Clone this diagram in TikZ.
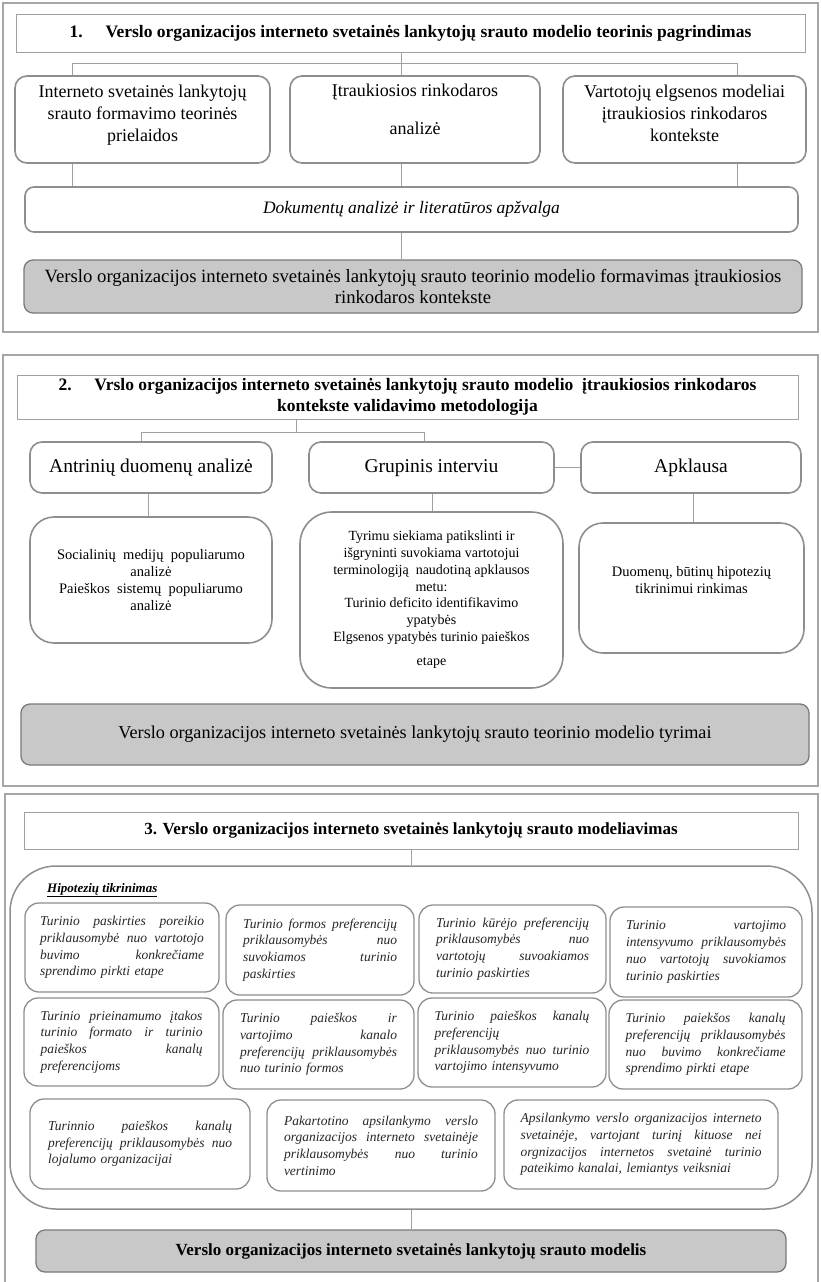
\documentclass[tikz,border=0pt]{standalone}
\usepackage{fontspec}
\setmainfont{Liberation Serif}
\usetikzlibrary{calc}
\definecolor{framegray}{HTML}{A6A6A6}
\definecolor{linegray}{HTML}{A0A0A0}
\definecolor{boxgray}{HTML}{8E8E8E}
\definecolor{fillgray}{HTML}{C8C8C8}
\definecolor{edgegray}{HTML}{7A7A7A}
% a line of a justified paragraph, spread to the full width
\newcommand\jline[1]{\makebox[\hsize][s]{\frenchspacing\spaceskip=0.25em plus 1fil\relax #1}}
\begin{document}
\begin{tikzpicture}[x=1pt,y=-1pt,
  frame/.style={draw=framegray, line width=2.2pt},
  conn/.style={draw=linegray, line width=0.8pt},
  sz/.style 2 args={minimum width=#1pt, minimum height=#2pt},
  headbox/.style={draw=linegray, line width=0.9pt, fill=white, inner sep=0pt,
    align=center, font=\fontsize{17.5}{21.5}\selectfont\bfseries},
  rbox/.style={draw=boxgray, line width=1.6pt, fill=white, rounded corners=#1,
    inner sep=0pt, align=center},
  rbox/.default=12pt,
  shaded/.style={draw=edgegray, line width=1.3pt, fill=fillgray,
    rounded corners=9pt, inner sep=0pt, align=center},
  hyp/.style n args={3}{draw=boxgray, line width=1.3pt, fill=white,
    rounded corners=14pt, inner sep=0pt, align=left, text width=#3pt,
    minimum width=#1pt, minimum height=#2pt,
    font=\fontsize{13.5}{16.7}\selectfont\itshape, text=black!85}
]
\useasboundingbox (0,0) rectangle (821,1282);

% ---------------- part 1 ----------------
\draw[frame] (3,3) rectangle (818,332);
\node[headbox, sz={789}{38}] (t1) at (410.5,33)
  {1.\hspace{1.3em}Verslo organizacijos interneto svetainės lankytojų srauto modelio teorinis pagrindimas};
\node[rbox, sz={255}{87}, font=\fontsize{18}{22}\selectfont, text depth=13pt] (a1) at (142.5,119.5)
  {Interneto svetainės lankytojų\\srauto formavimo teorinės\\prielaidos};
\node[rbox, sz={250}{87}, font=\fontsize{18}{22}\selectfont, text depth=20pt] (a2) at (415,119.5)
  {Įtraukiosios rinkodaros\\[16pt]analizė};
\node[rbox, sz={243}{87}, font=\fontsize{18}{22}\selectfont, text depth=13pt] (a3) at (684.5,119.5)
  {Vartotojų elgsenos modeliai\\įtraukiosios rinkodaros\\kontekste};
\node[rbox=9pt, sz={773}{45}, font=\fontsize{17.5}{20}\selectfont\itshape] (d1) at (411.5,209.5)
  {Dokumentų analizė ir literatūros apžvalga};
\node[shaded, sz={778}{53}, font=\fontsize{18.7}{20.5}\selectfont] (g1) at (413,286.5)
  {Verslo organizacijos interneto svetainės lankytojų srauto teorinio modelio formavimas įtraukiosios\\rinkodaros kontekste};

\coordinate (s1) at (401,63);
\coordinate (l1) at (72,63);
\coordinate (r1) at (737,63);
\draw[conn] (t1.south -| s1) -- (s1);
\draw[conn] (l1) -- (r1);
\draw[conn] (l1) -- (l1 |- a1.north);
\draw[conn] (s1) -- (s1 |- a2.north);
\draw[conn] (r1) -- (r1 |- a3.north);
\draw[conn] (l1 |- a1.south) -- (l1 |- d1.north);
\draw[conn] (s1 |- a2.south) -- (s1 |- d1.north);
\draw[conn] (r1 |- a3.south) -- (r1 |- d1.north);
\draw[conn] (s1 |- d1.south) -- (s1 |- g1.north);

% ---------------- part 2 ----------------
\draw[frame] (3,355) rectangle (818,786);
\node[headbox, sz={781}{44}] (t2) at (407.5,397)
  {2.\hspace{1.3em}Vrslo organizacijos interneto svetainės lankytojų srauto modelio \ įtraukiosios rinkodaros\\kontekste validavimo metodologija};
\node[rbox, sz={242}{51}, font=\fontsize{19.5}{22}\selectfont, text height=14pt, text depth=5pt] (m1) at (151,467.5)
  {Antrinių duomenų analizė};
\node[rbox, sz={245}{51}, font=\fontsize{19.5}{22}\selectfont, text height=14pt, text depth=5pt] (m2) at (431.5,467.5)
  {Grupinis interviu};
\node[rbox, sz={220}{51}, font=\fontsize{19.5}{22}\selectfont, text height=14pt, text depth=5pt] (m3) at (691,467.5)
  {Apklausa};
\node[rbox=24pt, sz={242}{126}, font=\fontsize{14.5}{16.7}\selectfont] (n1) at (151,580)
  {Socialinių \ medijų \ populiarumo\\analizė\\Paieškos \ sistemų \ populiarumo\\analizė};
\node[rbox=32pt, sz={263}{176}, font=\fontsize{14}{16.7}\selectfont] (n2) at (431.5,600)
  {Tyrimu siekiama patikslinti ir\\išgryninti suvokiama vartotojui\\terminologiją \ naudotiną apklausos\\metu:\\Turinio deficito identifikavimo\\ypatybės\\Elgsenos ypatybės turinio paieškos\\[8pt]etape};
\node[rbox=24pt, sz={225}{130}, font=\fontsize{14.5}{16.7}\selectfont, text depth=16pt] (n3) at (691.5,588)
  {Duomenų, būtinų hipotezių\\tikrinimui rinkimas};
\node[shaded, sz={788}{61}, font=\fontsize{18.2}{20}\selectfont] (g2) at (415,734.5)
  {Verslo organizacijos interneto svetainės lankytojų srauto teorinio modelio tyrimai};

\coordinate (s2) at (296,432);
\coordinate (l2) at (141,432);
\coordinate (r2) at (424,432);
\draw[conn] (t2.south -| s2) -- (s2);
\draw[conn] (l2) -- (r2);
\draw[conn] (l2) -- (l2 |- m1.north);
\draw[conn] (r2) -- (r2 |- m2.north);
\draw[conn] (m2.east) -- (m3.west);
\coordinate (v1) at (148,500);
\coordinate (v2) at (432,500);
\coordinate (v3) at (693,500);
\draw[conn] (v1 |- m1.south) -- (v1 |- n1.north);
\draw[conn] (v2 |- m2.south) -- (v2 |- n2.north);
\draw[conn] (v3 |- m3.south) -- (v3 |- n3.north);

% ---------------- part 3 ----------------
\draw[frame] (5,794) rectangle (818,1295);
\node[headbox, sz={774}{37}, font=\fontsize{17}{20}\selectfont\bfseries] (t3) at (411,830.5)
  {3. Verslo organizacijos interneto svetainės lankytojų srauto modeliavimas};
\node[draw=boxgray, line width=1.5pt, rounded corners=46pt, sz={802}{343}] (hc) at (411,1037.5) {};
\draw[conn] (t3.south) -- (hc.north);
\node[anchor=west, inner sep=0pt, font=\fontsize{13}{15}\selectfont\bfseries\itshape] (hl) at (47,890)
  {\underline{Hipotezių tikrinimas}};

\node[hyp={194}{89}{164}] (h1) at (122,947.5)
  {\jline{Turinio paskirties poreikio}\\\jline{priklausomybė nuo vartotojo}\\\jline{buvimo konkrečiame}\\sprendimo pirkti etape};
\node[hyp={188}{90}{154}] (h2) at (320,950)
  {\jline{Turinio formos preferencijų}\\\jline{priklausomybės nuo}\\\jline{suvokiamos turinio}\\paskirties};
\node[hyp={187}{88}{153}] (h3) at (512.5,949)
  {\jline{Turinio kūrėjo preferencijų}\\\jline{priklausomybės nuo}\\\jline{vartotojų suvoakiamos}\\turinio paskirties};
\node[hyp={192}{90}{160}] (h4) at (706,952)
  {\jline{Turinio vartojimo}\\\jline{intensyvumo priklausomybės}\\\jline{nuo vartotojų suvokiamos}\\turinio paskirties};

\node[hyp={195}{88}{162}] (h5) at (121.5,1042)
  {\jline{Turinio prieinamumo įtakos}\\\jline{turinio formato ir turinio}\\\jline{paieškos kanalų}\\preferencijoms};
\node[hyp={191}{89}{157}] (h6) at (318.5,1044.5)
  {\jline{Turinio paieškos ir}\\\jline{vartojimo kanalo}\\\jline{preferencijų priklausomybės}\\nuo turinio formos};
\node[hyp={188}{89}{155}] (h7) at (512,1042.5)
  {\jline{Turinio paieškos kanalų}\\preferencijų\\\jline{priklausomybės nuo turinio}\\vartojimo intensyvumo};
\node[hyp={193}{89}{160}] (h8) at (705.5,1044.5)
  {\jline{Turinio paiekšos kanalų}\\\jline{preferencijų priklausomybės}\\\jline{nuo buvimo konkrečiame}\\sprendimo pirkti etape};

\node[hyp={220}{90}{184}] (h9) at (140,1144)
  {\jline{Turinnio paieškos kanalų}\\\jline{preferencijų priklausomybės nuo}\\lojalumo organizacijai};
\node[hyp={228}{91}{194}] (h10) at (381,1145.5)
  {\jline{Pakartotino apsilankymo verslo}\\\jline{organizacijos interneto svetainėje}\\\jline{priklausomybės nuo turinio}\\vertinimo};
\node[hyp={274}{89}{241}] (h11) at (641,1144.5)
  {\jline{Apsilankymo verslo organizacijos interneto}\\\jline{svetainėje, vartojant turinį kituose nei}\\\jline{orgnizacijos internetos svetainė turinio}\\pateikimo kanalai, lemiantys veiksniai};

\node[shaded, sz={750}{42}, font=\fontsize{17}{19}\selectfont\bfseries] (g3) at (411,1251)
  {Verslo organizacijos interneto svetainės lankytojų srauto modelis};
\draw[conn] (hc.south) -- (g3.north);
\end{tikzpicture}
\end{document}
